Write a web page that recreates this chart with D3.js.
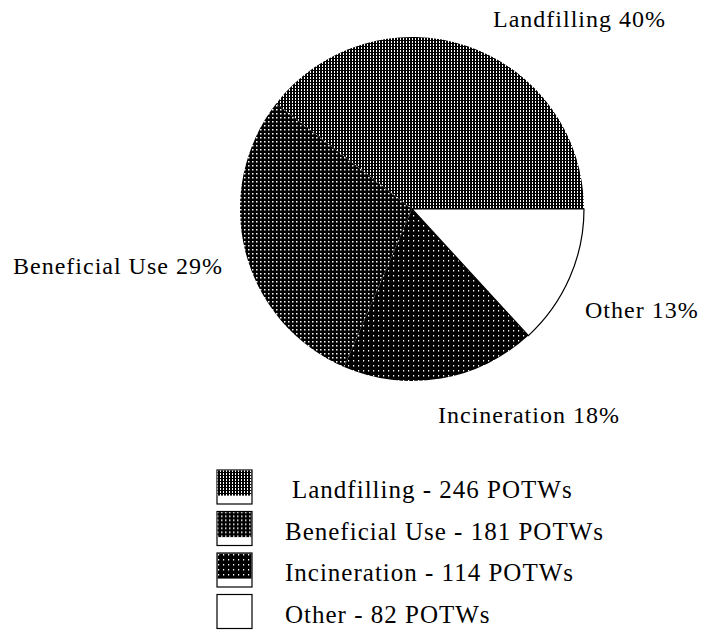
<!DOCTYPE html>
<html lang="en">
<head>
<meta charset="UTF-8">
<title>POTW disposal</title>
<style>
  body { margin: 0; background: #fff; }
</style>
</head>
<body>
<svg id="chart"></svg>
<script src="https://d3js.org/d3.v7.min.js"></script>
<script>
// data
var categories = ['Landfilling', 'Beneficial Use', 'Incineration', 'Other'];
var potws = [246, 181, 114, 82];
var percents = [40, 29, 18, 13];

var width = 703, height = 630;
var cx = 412, cy = 209, radius = 172;
var serif = "'Liberation Serif', 'Times New Roman', Times, serif";

var svg = d3.select('#chart').attr('width', width).attr('height', height);
var defs = svg.append('defs');

// fill patterns: black ground with white dots of different density
function makePattern(id, w, h, dots) {
  var p = defs.append('pattern').attr('id', id)
    .attr('patternUnits', 'userSpaceOnUse')
    .attr('width', w).attr('height', h);
  p.append('rect').attr('width', w).attr('height', h).attr('fill', '#000');
  dots.forEach(function (d) {
    p.append('rect').attr('x', d[0]).attr('y', d[1])
      .attr('width', d[2]).attr('height', d[3]).attr('fill', '#fff');
  });
}
makePattern('pat0', 3, 3, [[0, 0, 1, 2]]);
makePattern('pat1', 4, 4, [[0, 0, 1.5, 1.5]]);
makePattern('pat2', 5, 5, [[1, 1, 1.2, 1.5]]);
var fills = ['url(#pat0)', 'url(#pat1)', 'url(#pat2)', '#fff'];

// counter-clockwise from 3 o'clock
var pie = d3.pie().sort(null)
  .startAngle(Math.PI / 2)
  .endAngle(Math.PI / 2 - 2 * Math.PI);
var arcs = pie(potws);
var arc = d3.arc().innerRadius(0).outerRadius(radius);

var g = svg.append('g').attr('transform', 'translate(' + cx + ',' + cy + ')');
g.selectAll('path.slice').data(arcs).enter().append('path')
  .attr('class', 'slice')
  .attr('d', arc)
  .attr('fill', function (d, i) { return fills[i]; })
  .attr('stroke', function (d, i) { return i === 3 ? '#000' : 'none'; })
  .attr('stroke-width', 1.2);

// slice labels
var labelPos = [[493, 27], [13, 274], [438, 423], [585, 318]];
svg.selectAll('text.lbl').data(categories).enter().append('text')
  .attr('class', 'lbl')
  .attr('x', function (d, i) { return labelPos[i][0]; })
  .attr('y', function (d, i) { return labelPos[i][1]; })
  .attr('font-family', serif)
  .attr('font-size', 24)
  .attr('letter-spacing', 1)
  .text(function (d, i) { return d + ' ' + percents[i] + '%'; });

// legend
var legend = svg.append('g').attr('transform', 'translate(217,470)');
var rowH = 41.5;
var item = legend.selectAll('g').data(categories).enter().append('g')
  .attr('transform', function (d, i) { return 'translate(0,' + i * rowH + ')'; });
item.append('rect')
  .attr('width', 35).attr('height', 34)
  .attr('fill', '#fff').attr('stroke', '#000').attr('stroke-width', 1.2);
item.filter(function (d, i) { return i < 3; }).append('rect')
  .attr('x', 0.6).attr('y', 0.6)
  .attr('width', 33.8).attr('height', 25)
  .attr('fill', function (d, i) { return fills[i]; });
item.append('text')
  .attr('x', function (d, i) { return i === 0 ? 75 : 68; })
  .attr('y', 28)
  .attr('font-family', serif)
  .attr('font-size', 25)
  .attr('letter-spacing', 1)
  .text(function (d, i) { return d + ' - ' + potws[i] + ' POTWs'; });
</script>
</body>
</html>
